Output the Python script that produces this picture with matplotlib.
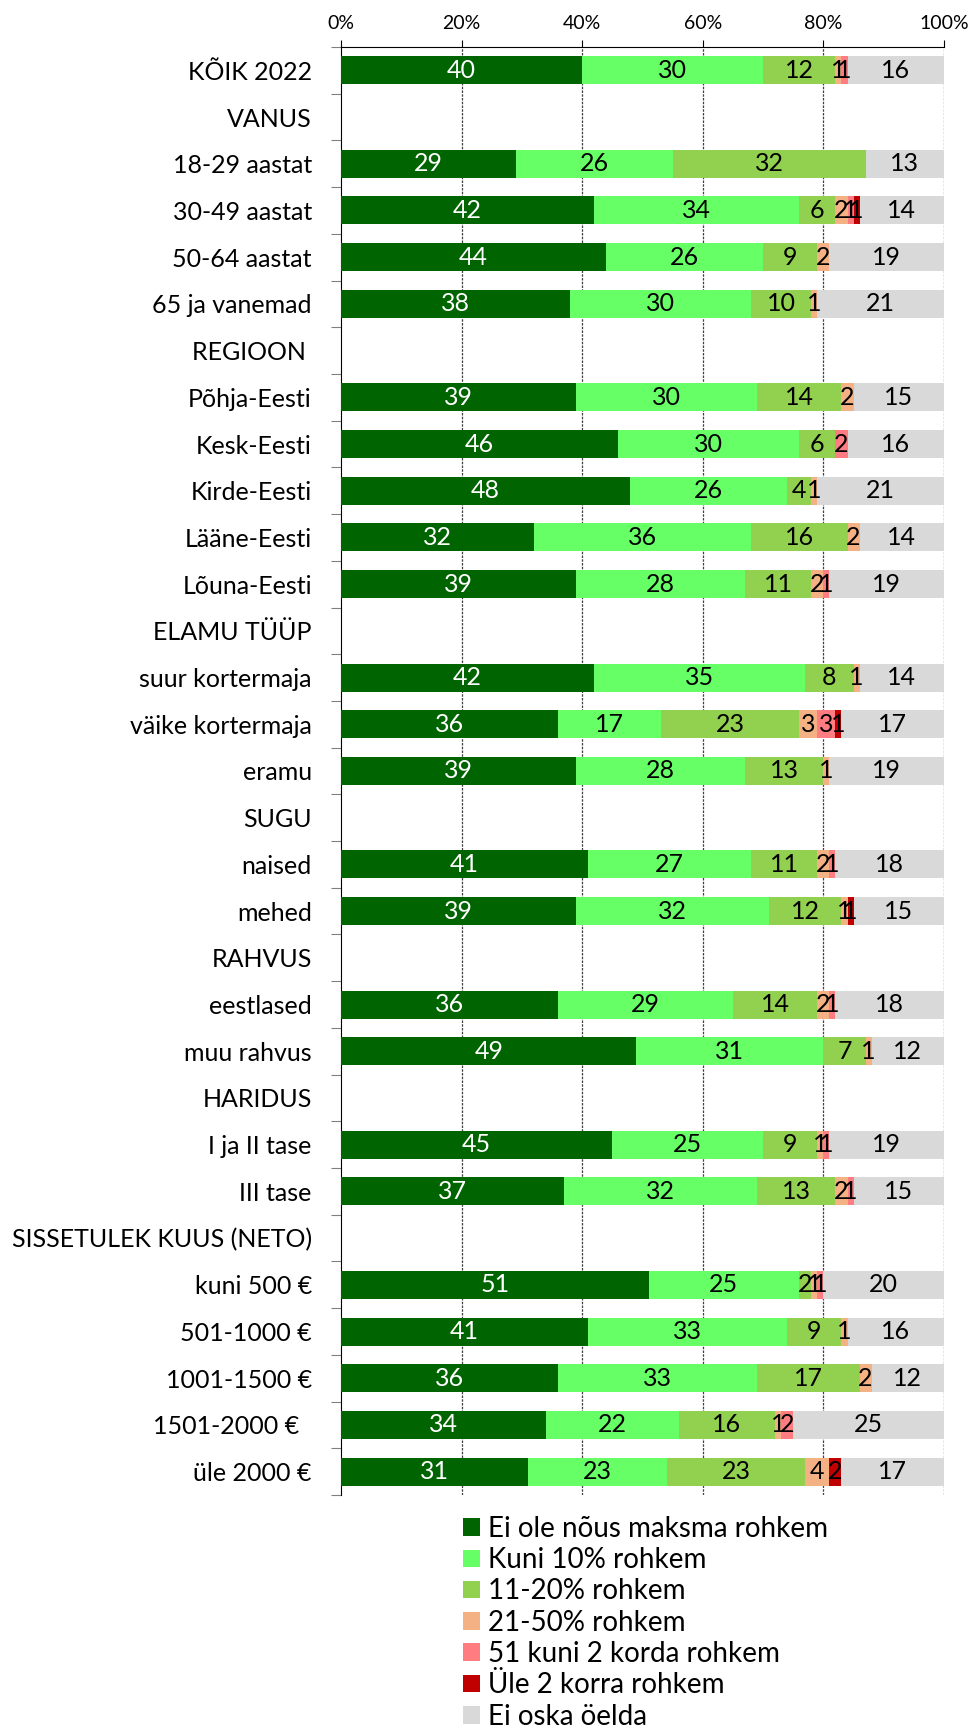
import numpy as np
import matplotlib.pyplot as plt
from matplotlib.patches import Patch

plt.rcParams['font.family'] = ['Lato', 'DejaVu Sans']

# rows, top to bottom; header rows have no values (None)
categories = ["KÕIK 2022", "VANUS", "18-29 aastat", "30-49 aastat", "50-64 aastat",
              "65 ja vanemad", "REGIOON ", "Põhja-Eesti", "Kesk-Eesti", "Kirde-Eesti",
              "Lääne-Eesti", "Lõuna-Eesti", "ELAMU TÜÜP", "suur kortermaja",
              "väike kortermaja", "eramu", "SUGU", "naised", "mehed", "RAHVUS",
              "eestlased", "muu rahvus", "HARIDUS", "I ja II tase", "III tase",
              "SISSETULEK KUUS (NETO)", "kuni 500 €", "501-1000 €", "1001-1500 €",
              "1501-2000 €  ", "üle 2000 €"]

ei_ole =     [40, None, 29, 42, 44, 38, None, 39, 46, 48, 32, 39, None, 42, 36, 39, None, 41, 39, None, 36, 49, None, 45, 37, None, 51, 41, 36, 34, 31]
kuni_10 =    [30, None, 26, 34, 26, 30, None, 30, 30, 26, 36, 28, None, 35, 17, 28, None, 27, 32, None, 29, 31, None, 25, 32, None, 25, 33, 33, 22, 23]
p11_20 =     [12, None, 32, 6, 9, 10, None, 14, 6, 4, 16, 11, None, 8, 23, 13, None, 11, 12, None, 14, 7, None, 9, 13, None, 2, 9, 17, 16, 23]
p21_50 =     [1, None, 0, 2, 2, 1, None, 2, 0, 1, 2, 2, None, 1, 3, 1, None, 2, 1, None, 2, 1, None, 1, 2, None, 1, 1, 2, 1, 4]
kuni_2x =    [1, None, 0, 1, 0, 0, None, 0, 2, 0, 0, 1, None, 0, 3, 0, None, 1, 0, None, 1, 0, None, 1, 1, None, 1, 0, 0, 2, 0]
ule_2x =     [0, None, 0, 1, 0, 0, None, 0, 0, 0, 0, 0, None, 0, 1, 0, None, 0, 1, None, 0, 0, None, 0, 0, None, 0, 0, 0, 0, 2]
ei_oska =    [16, None, 13, 14, 19, 21, None, 15, 16, 21, 14, 19, None, 14, 17, 19, None, 18, 15, None, 18, 12, None, 19, 15, None, 20, 16, 12, 25, 17]

series_names = ["Ei ole nõus maksma rohkem", "Kuni 10% rohkem", "11-20% rohkem",
                "21-50% rohkem", "51 kuni 2 korda rohkem", "Üle 2 korra rohkem",
                "Ei oska öelda"]
series = [ei_ole, kuni_10, p11_20, p21_50, kuni_2x, ule_2x, ei_oska]
colors = ["#006400", "#66FF66", "#92D050", "#F4B183", "#FF7C80", "#C00000", "#D9D9D9"]
text_colors = ["white", "black", "black", "black", "black", "black", "black"]

fig = plt.figure(figsize=(9.72, 17.30), dpi=100)
ax = fig.add_axes([341 / 972, 1 - 1495 / 1730, 603 / 972, 1448 / 1730])

y = np.arange(len(categories))
left = np.zeros(len(categories))
for vals, col, tcol in zip(series, colors, text_colors):
    v = np.array([0 if x is None else x for x in vals], dtype=float)
    ax.barh(y, v, left=left, height=0.6, color=col, edgecolor="none", zorder=3)
    for yi, (vi, li) in enumerate(zip(v, left)):
        if vi > 0:
            ax.text(li + vi / 2, yi, f"{int(vi)}", ha="center", va="center",
                    color=tcol, fontsize=18, zorder=4)
    left += v

ax.set_xlim(0, 100)
ax.set_ylim(len(categories) - 0.5, -0.5)

ax.xaxis.tick_top()
ax.set_xticks(np.arange(0, 101, 20))
ax.set_xticklabels([f"{t}%" for t in range(0, 101, 20)], fontsize=14)
ax.tick_params(axis="x", direction="out", length=5, pad=6, color="black")

ax.set_yticks(np.arange(-0.5, len(categories), 1.0))
ax.set_yticklabels([])
ax.set_yticks(y, minor=True)
ax.set_yticklabels(categories, minor=True, fontsize=18)
ax.tick_params(axis="y", which="major", length=7, color="#808080")
ax.tick_params(axis="y", which="minor", length=0, pad=21)

for xv in [20, 40, 60, 80, 100]:
    ax.axvline(xv, color="#404040", lw=0.9, ls=(0, (2, 1)), zorder=1)

ax.spines["right"].set_visible(False)
ax.spines["bottom"].set_visible(False)
ax.spines["left"].set_color("black")
ax.spines["top"].set_color("black")

handles = [Patch(facecolor=c, edgecolor="none") for c in colors]
fig.legend(handles, series_names, loc="upper left",
           bbox_to_anchor=(449 / 972, 1 - 1502 / 1730), frameon=False,
           fontsize=20, handlelength=0.6, handleheight=0.6, handletextpad=0.3,
           labelspacing=0.19, borderpad=0)

fig.savefig("out.png", dpi=100)
